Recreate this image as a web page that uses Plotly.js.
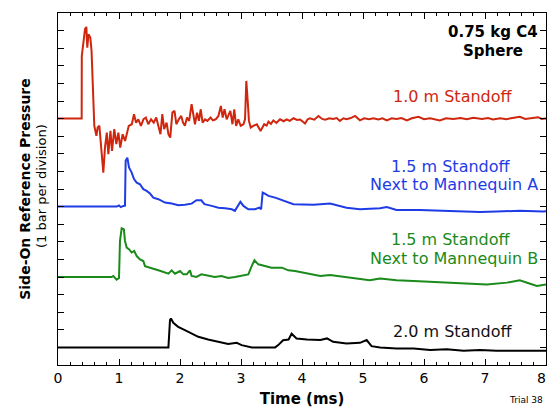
<!DOCTYPE html>
<html>
<head>
<meta charset="utf-8">
<script src="https://cdn.plot.ly/plotly-3.0.1.min.js"></script>
<style>html,body{margin:0;padding:0;background:#fff;}#chart{width:548px;height:410px;}</style>
</head>
<body>
<div id="chart"></div>
<script>
// Time (ms) / pressure (bar) pairs
const red10 = [[0,0],[0.388,0],[0.39,3.56],[0.415,4.41],[0.443,5.08],[0.465,5.21],[0.48,4.03],[0.50,4.79],[0.53,4.6],[0.55,3.85],[0.574,1.86],[0.595,-0.41],[0.63,-0.98],[0.65,-0.51],[0.678,-0.41],[0.70,-1.27],[0.72,-2.22],[0.743,-3.07],[0.77,-1.65],[0.80,-0.8],[0.825,-2.02],[0.86,-0.7],[0.885,-1.84],[0.923,-0.6],[0.956,-1.45],[0.99,-0.8],[1.02,-1.65],[1.06,-0.89],[1.10,-1.27],[1.126,-0.8],[1.16,-0.41],[1.21,-0.32],[1.246,0.25],[1.28,-0.23],[1.317,-0.04],[1.36,-0.41],[1.40,-0.04],[1.44,0.06],[1.48,-0.32],[1.525,-0.04],[1.57,-0.23],[1.61,0.06],[1.645,-0.51],[1.68,-0.89],[1.71,0.25],[1.74,-0.6],[1.78,-0.23],[1.81,-0.89],[1.84,-1.08],[1.875,0.34],[1.91,0.44],[1.94,-0.32],[1.98,-0.04],[2.02,0.15],[2.05,-0.23],[2.08,-0.41],[2.115,0.06],[2.15,-0.13],[2.19,0.82],[2.22,0.15],[2.245,-0.32],[2.28,0.34],[2.31,-0.13],[2.34,0.53],[2.37,-0.23],[2.41,-0.04],[2.45,-0.13],[2.50,0.06],[2.54,-0.1],[2.585,-0.04],[2.63,0.15],[2.67,0.72],[2.70,0.06],[2.73,0.53],[2.765,-0.04],[2.79,0.15],[2.825,0.44],[2.86,-0.32],[2.89,0.53],[2.92,-0.41],[2.955,-0.04],[2.995,-0.41],[3.04,-0.32],[3.066,-0.04],[3.087,2.14],[3.11,1.0],[3.13,-0.13],[3.16,-0.51],[3.20,-0.41],[3.26,-0.32],[3.32,-0.7],[3.38,-0.32],[3.42,-0.4],[3.45,-0.17],[3.49,-0.3],[3.53,-0.1],[3.58,-0.25],[3.64,-0.04],[3.70,-0.15],[3.75,-0.05],[3.80,-0.13],[3.86,0.02],[3.92,-0.08],[3.97,-0.05],[4.05,-0.28],[4.09,-0.05],[4.13,0.02],[4.20,-0.06],[4.27,0.15],[4.33,-0.02],[4.38,-0.06],[4.45,0.02],[4.51,-0.02],[4.57,0.03],[4.62,-0.13],[4.68,0.02],[4.73,-0.03],[4.80,0.03],[4.87,0.15],[4.95,-0.1],[5.02,0.02],[5.10,-0.03],[5.17,0.02],[5.25,-0.05],[5.32,0.02],[5.39,-0.1],[5.47,0.02],[5.55,-0.02],[5.63,0.03],[5.72,-0.1],[5.80,0.02],[5.91,0.1],[6.00,-0.03],[6.10,0.02],[6.18,-0.05],[6.26,-0.1],[6.36,0.02],[6.48,-0.02],[6.60,0.03],[6.70,-0.04],[6.81,0.05],[6.95,-0.02],[7.05,0.03],[7.13,-0.05],[7.25,0.02],[7.35,-0.03],[7.45,0.03],[7.57,0.1],[7.66,-0.02],[7.79,0.02],[7.87,0.08],[7.93,-0.02],[8.0,0]];
const blue15A = [[0,0],[0.96,0],[1.0,0.06],[1.03,-0.03],[1.07,0.04],[1.098,0.05],[1.109,2.6],[1.137,2.78],[1.164,2.22],[1.208,1.93],[1.246,1.56],[1.29,1.36],[1.344,1.27],[1.399,0.99],[1.453,0.89],[1.508,0.74],[1.563,0.51],[1.645,0.42],[1.754,0.23],[1.863,0.18],[1.973,0.08],[2.08,0.1],[2.19,0.17],[2.27,0.36],[2.35,0.36],[2.40,0.14],[2.52,0.04],[2.63,-0.06],[2.74,-0.1],[2.85,-0.15],[2.90,-0.24],[2.95,0.04],[2.99,0.27],[3.04,0.04],[3.12,-0.15],[3.23,-0.15],[3.30,-0.06],[3.33,-0.15],[3.355,0.8],[3.39,0.74],[3.45,0.61],[3.56,0.51],[3.67,0.36],[3.78,0.23],[3.86,0.14],[4.02,0.12],[4.19,0.10],[4.46,0.17],[4.73,-0.06],[4.95,-0.15],[5.28,-0.09],[5.39,-0.02],[5.55,-0.19],[5.93,-0.19],[6.37,-0.24],[6.92,-0.3],[7.19,-0.28],[7.57,-0.24],[7.95,-0.28],[8.0,-0.27]];
const green15B = [[0,0],[0.88,0],[0.907,0.06],[0.96,-0.15],[1.0,-0.06],[1.016,2.05],[1.044,2.77],[1.08,2.71],[1.098,2.05],[1.126,1.67],[1.164,1.58],[1.208,1.39],[1.25,1.48],[1.29,1.19],[1.344,1.0],[1.399,0.91],[1.426,0.62],[1.48,0.57],[1.535,0.53],[1.59,0.44],[1.645,0.38],[1.754,0.28],[1.81,0.19],[1.863,0.38],[1.918,0.19],[2.0,0.34],[2.055,0.15],[2.11,0.15],[2.164,0.38],[2.19,0.06],[2.27,0.0],[2.35,0.15],[2.46,0.06],[2.57,0.0],[2.68,0.06],[2.79,-0.06],[2.90,0.0],[3.01,0.06],[3.12,0.15],[3.175,0.62],[3.22,0.95],[3.284,0.72],[3.393,0.62],[3.50,0.53],[3.67,0.53],[3.776,0.38],[3.885,0.34],[4.02,0.25],[4.13,0.19],[4.30,0.06],[4.46,0.11],[4.73,0.0],[5.11,-0.19],[5.28,-0.08],[5.55,-0.19],[5.83,-0.23],[6.10,-0.27],[6.48,-0.32],[6.81,-0.38],[7.03,-0.42],[7.36,-0.32],[7.57,-0.19],[7.74,-0.38],[7.85,-0.51],[8.0,-0.42]];
const black20 = [[0,0],[1.81,0],[1.836,1.55],[1.852,1.65],[1.89,1.4],[1.97,1.17],[2.08,0.98],[2.19,0.8],[2.30,0.6],[2.46,0.45],[2.63,0.32],[2.79,0.19],[2.93,0.26],[3.01,0.13],[3.18,0],[3.56,0],[3.61,0.13],[3.69,0.41],[3.78,0.45],[3.83,0.78],[3.91,0.51],[4.08,0.45],[4.30,0.42],[4.41,0.51],[4.51,0.32],[4.73,0.22],[4.95,0.26],[5.06,0.42],[5.14,0.07],[5.28,0],[5.55,-0.06],[5.83,-0.06],[6.10,-0.15],[6.37,-0.11],[6.65,-0.19],[6.92,-0.15],[7.19,-0.19],[7.47,-0.19],[7.95,-0.19],[8.0,-0.19]];

// stacking offsets (divisions) and labels
const seriesNames = ['1.0 m Standoff', '1.5 m Standoff, Next to Mannequin A', '1.5 m Standoff, Next to Mannequin B', '2.0 m Standoff'];
const seriesData = [red10, blue15A, green15B, black20];
const seriesOffset = [14, 9, 5, 1];
const seriesColor = ['#d0260e', '#1e3ce6', '#1a8a1a', '#000000'];
const xTickVals = [0,1,2,3,4,5,6,7,8];
const xTickText = ['0','1','2','3','4','5','6','7',''];   // last label drawn flush with the edge below
const lastTickLabel = '8';

const traces = seriesData.map((d, i) => ({
  type: 'scatter', mode: 'lines', name: seriesNames[i],
  x: d.map(p => p[0]),
  y: d.map(p => p[1] + seriesOffset[i]),
  line: {color: seriesColor[i], width: 2},
  hoverinfo: 'x+name'
}));

const L = 58, R = 546, T = 13, B = 365;
const px = v => (v - L) / (R - L);
const py = v => (B - v) / (B - T);
const F = 'DejaVu Sans, Verdana, sans-serif';
function lab(text, x, y, color, size, extra) {
  return Object.assign({text: text, xref: 'paper', yref: 'paper', x: px(x), y: py(y),
    xanchor: 'center', yanchor: 'middle', showarrow: false,
    font: {family: F, size: size, color: color}}, extra || {});
}

const annotations = [
  lab('<b>0.75 kg C4</b>', 493, 32, '#000', 15),
  lab('<b>Sphere</b>', 493, 51, '#000', 15),
  lab('1.0 m Standoff', 453, 96.5, seriesColor[0], 16),
  lab('1.5 m Standoff', 451, 166.5, seriesColor[1], 16),
  lab('Next to Mannequin A', 454, 184.5, seriesColor[1], 16),
  lab('1.5 m Standoff', 451, 239.5, seriesColor[2], 16),
  lab('Next to Mannequin B', 454, 258.5, seriesColor[2], 16),
  lab('2.0 m Standoff', 453, 331, '#111', 16),
  lab('(1 bar per division)', 41, 186, '#000', 13, {textangle: -90}),
  lab('Trial 38', 507, 400, '#000', 9, {xanchor: 'left'}),
  lab(lastTickLabel, 547, 378, '#000', 14, {xanchor: 'right', borderpad: 0})
];

const layout = {
  width: 548, height: 410,
  margin: {l: L, r: 548 - R, t: T, b: 410 - B, pad: 0},
  paper_bgcolor: '#fff', plot_bgcolor: '#fff',
  showlegend: false,
  xaxis: {
    range: [0, 8], tickvals: xTickVals, ticktext: xTickText,
    ticks: 'inside', ticklen: 6, tickwidth: 1, tickcolor: '#000',
    minor: {dtick: 0.2, tick0: 0, ticks: 'inside', ticklen: 3, tickwidth: 1, tickcolor: '#000'},
    showline: true, linecolor: '#000', linewidth: 1, mirror: 'allticks',
    showgrid: false, zeroline: false,
    tickfont: {family: F, size: 14, color: '#000'},
    title: {text: '<b>Time (ms)</b>', font: {family: F, size: 15, color: '#000'}, standoff: 8}
  },
  yaxis: {
    range: [0, 20], dtick: 1, tick0: 0,
    ticks: 'inside', ticklen: 6, tickwidth: 1, tickcolor: '#000',
    showticklabels: false,
    showline: true, linecolor: '#000', linewidth: 1, mirror: 'allticks',
    showgrid: false, zeroline: false,
    title: {text: '<b>Side-On Reference Pressure</b>', font: {family: F, size: 14, color: '#000'}, standoff: 23}
  },
  annotations: annotations
};

Plotly.newPlot('chart', traces, layout, {displayModeBar: false, staticPlot: true});
</script>
</body>
</html>
